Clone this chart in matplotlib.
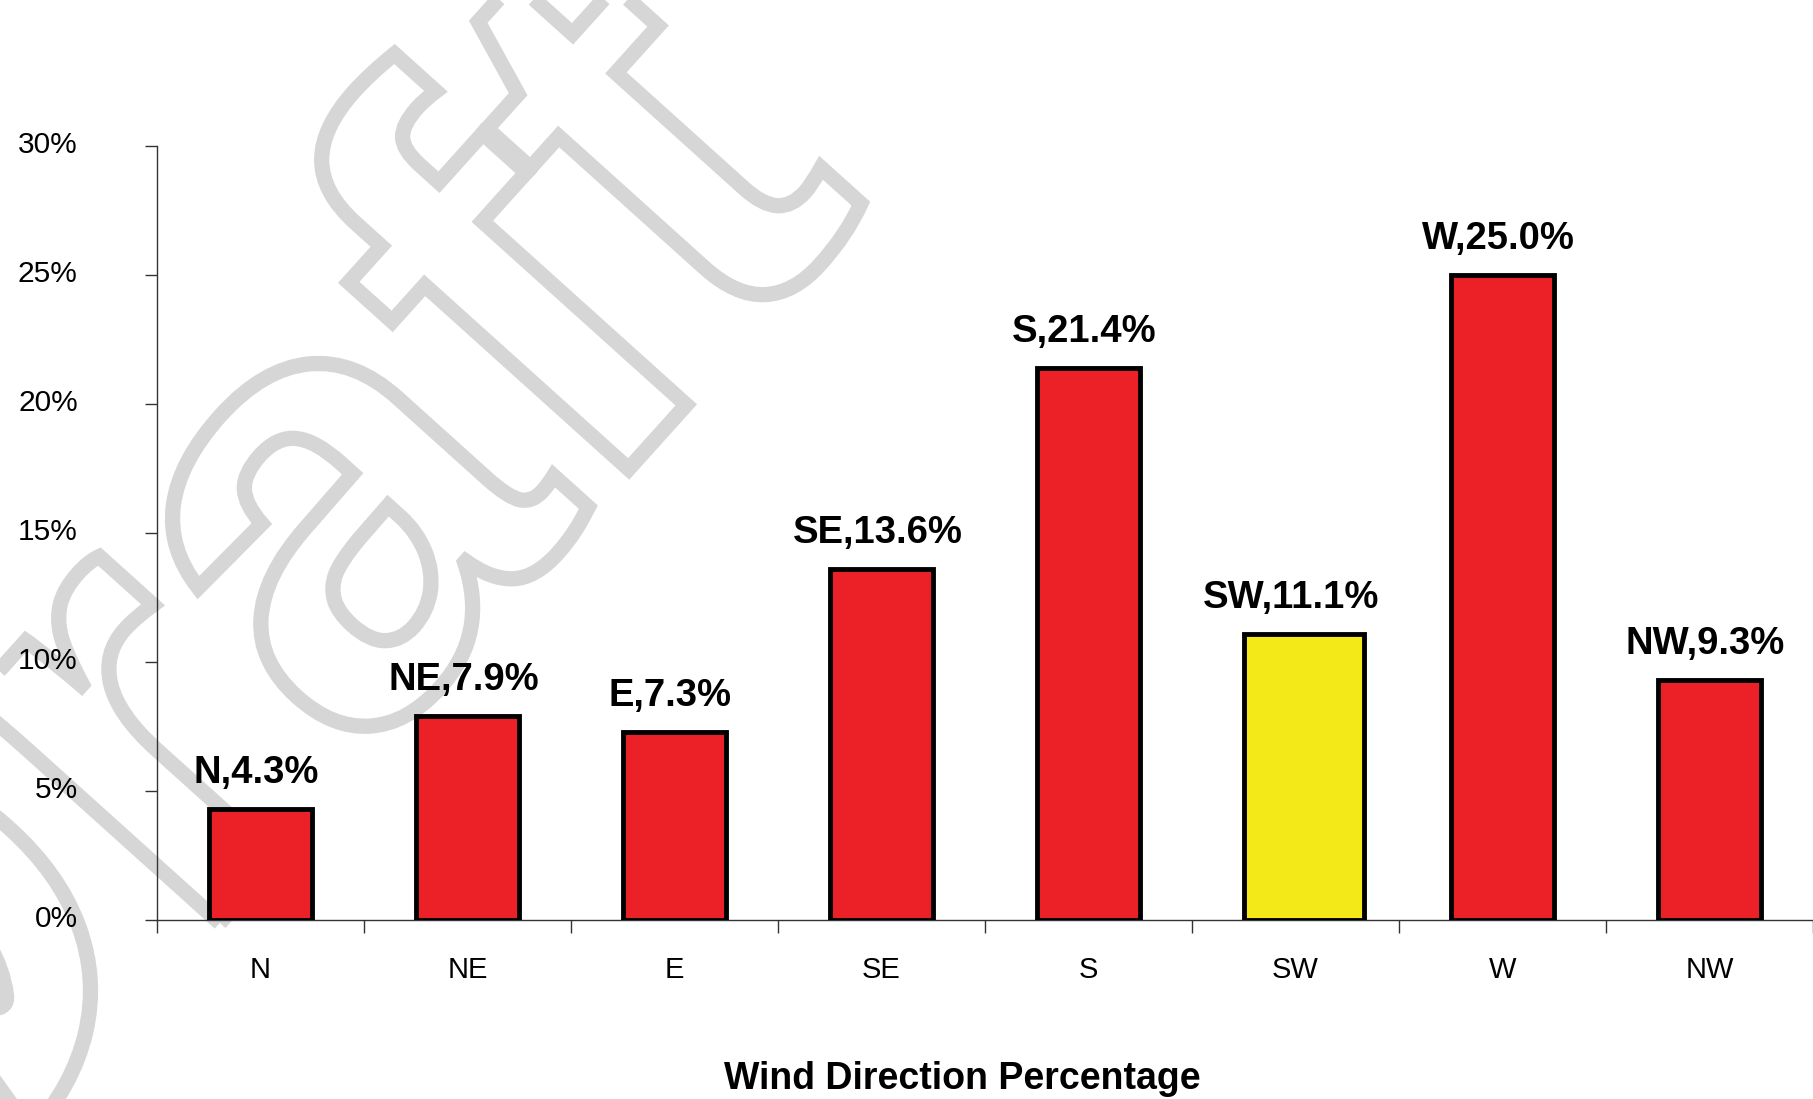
import matplotlib
matplotlib.use("Agg")
import matplotlib.pyplot as plt
from matplotlib.textpath import TextPath
from matplotlib.patches import PathPatch
from matplotlib.font_manager import FontProperties
from matplotlib.transforms import Affine2D, ScaledTranslation
from matplotlib.ticker import FuncFormatter

# data
directions = ["N", "NE", "E", "SE", "S", "SW", "W", "NW"]
percentages = [4.3, 7.9, 7.3, 13.6, 21.4, 11.1, 25.0, 9.3]
highlight = "SW"
y_ticks = [0, 5, 10, 15, 20, 25, 30]
x_title = "Wind Direction Percentage"

RED = "#ec2027"
YELLOW = "#f4e918"

plt.rcParams["font.family"] = ["Liberation Sans", "DejaVu Sans"]

W, H = 1813, 1099
fig = plt.figure(figsize=(W / 100, H / 100), dpi=100)
fig.patch.set_facecolor("white")

# "Draft" watermark, outlined grey letters
wm = fig.add_axes([0, 0, 1, 1], zorder=0)
wm.set_xlim(0, W)
wm.set_ylim(0, H)
wm.axis("off")
tp = TextPath((0, 0), "Draft", size=630,
              prop=FontProperties(family="Liberation Sans", weight="bold"))
ext = tp.get_extents()
cx, cy = (ext.x0 + ext.x1) / 2, (ext.y0 + ext.y1) / 2
tr = Affine2D().translate(-cx, -cy).rotate_deg(48).translate(222, 515)
wm.add_patch(PathPatch(tr.transform_path(tp), fc="none", ec="#d6d6d6", lw=11))

# main chart
left, top, bottom = 157, 146, 920
ax = fig.add_axes([left / W, (H - bottom) / H, 1 - left / W, (bottom - top) / H], zorder=1)
ax.set_facecolor("none")

x = list(range(len(directions)))
colors = [YELLOW if d == highlight else RED for d in directions]
widths = [0.58 if d == highlight else 0.5 for d in directions]
xpos = [xi + 0.04 if d == highlight else xi for xi, d in zip(x, directions)]
ax.bar(xpos, percentages, width=widths, color=colors, edgecolor="black",
       linewidth=3.5, zorder=3)

for xi, d, v in zip(x, directions, percentages):
    ax.annotate(f"{d},{v:.1f}%", (xi - 0.02, v), xytext=(0, 18.5),
                textcoords="offset points", ha="center", va="baseline",
                fontsize=27.5, fontweight="bold")

ax.set_xlim(-0.5, len(directions) - 0.5)
ax.set_ylim(0, 30)
ax.set_yticks(y_ticks)
ax.yaxis.set_major_formatter(FuncFormatter(lambda v, p: f"{v:.0f}%"))
ax.tick_params(axis="y", length=9, width=1, pad=48, labelsize=21.5, color="#333333")
for lab in ax.get_yticklabels():
    lab.set_transform(lab.get_transform() + ScaledTranslation(0, 3 / 72, fig.dpi_scale_trans))

ax.set_xticks([i - 0.5 for i in range(len(directions) + 1)])
ax.set_xticklabels([])
ax.set_xticks(x, minor=True)
ax.set_xticklabels(directions, minor=True)
ax.tick_params(axis="x", which="major", length=9, width=1, color="#333333")
ax.tick_params(axis="x", which="minor", length=0, pad=26, labelsize=21)

for s in ["top", "right"]:
    ax.spines[s].set_visible(False)
for s in ["left", "bottom"]:
    ax.spines[s].set_linewidth(1)
    ax.spines[s].set_color("#333333")

fig.text(962 / W, 1 - 1079 / H, x_title, ha="center", va="center",
         fontsize=27, fontweight="bold")

fig.savefig("out.png", dpi=100)
